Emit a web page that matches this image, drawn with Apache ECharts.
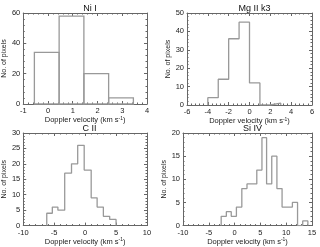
<!DOCTYPE html>
<html><head><meta charset="utf-8">
<script src="https://cdn.jsdelivr.net/npm/echarts@6/dist/echarts.min.js"></script>
<style>html,body{margin:0;padding:0;background:#fff}#c{width:320px;height:247px}</style>
</head><body><div id="c"></div>
<script>
// Panel titles
var titles = ['Ni I', 'Mg II k3', 'C II', 'Si IV'];
// Ni I histogram (bin edges and counts)
var niEdges = [-0.55, 0.45, 1.45, 2.45, 3.45];
var niCounts = [34, 58, 20, 4];
// Mg II k3
var mgEdges = [-4, -3, -2, -1, 0, 1, 2, 3];
var mgCounts = [4, 14, 36, 45, 12, 0, 1];
// C II
var ciiEdges = [-6.2, -5.3, -4.4, -3.3, -2.2, -1.2, -0.15, 0.98, 1.94, 2.95, 3.97, 5.0];
var ciiCounts = [4, 6, 5, 17, 20, 26, 18, 9, 6, 3, 2];
// Si IV
var siEdges = [-2.6, -1.6, -0.65, 0.35, 1.4, 2.4, 3.35, 4.3, 5.3, 6.2, 7.2, 8.2, 9.2, 10.2, 11.2, 12.2, 13.2, 14.2];
var siCounts = [2, 3, 2, 4, 8, 9, 9, 12, 19, 9, 15, 8, 4, 4, 5, 0, 1];
// Axis ranges
var xRanges = [[-1, 4, 1], [-6, 6, 2], [-10, 10, 5], [-10, 15, 5]];
var yRanges = [[0, 60, 20], [0, 50, 10], [0, 30, 5], [0, 20, 5]];

var font = 'Liberation Sans, Arial, sans-serif';
var axisCol = '#666';
var histCol = '#999';
var grids = [
  {left: 23, top: 13, width: 124, height: 91},
  {left: 187, top: 13, width: 125, height: 92},
  {left: 22, top: 133, width: 125, height: 93},
  {left: 183, top: 133, width: 129, height: 93}
];

function stepPoints(edges, counts) {
  var pts = [[edges[0], 0]];
  for (var i = 0; i < counts.length; i++) {
    pts.push([edges[i], counts[i]]);
    pts.push([edges[i + 1], counts[i]]);
  }
  pts.push([edges[edges.length - 1], 0]);
  return pts;
}

var xAxes = [], yAxes = [], series = [], titleOpts = [];
for (var g = 0; g < 4; g++) {
  var xr = xRanges[g], yr = yRanges[g];
  var base = {
    gridIndex: g, type: 'value', min: xr[0], max: xr[1], interval: xr[2],
    axisLine: {show: true, onZero: false, lineStyle: {color: axisCol, width: 1}},
    axisTick: {show: true, inside: true, length: 3, lineStyle: {color: axisCol}},
    minorTick: {show: true, splitNumber: 5, length: 1.5, lineStyle: {color: axisCol}},
    splitLine: {show: false}
  };
  xAxes.push(Object.assign({}, base, {
    position: 'bottom',
    axisLabel: {fontSize: 7.5, color: '#222', fontFamily: font, margin: 3},
    name: 'Doppler velocity (km s{sup|-1})', nameLocation: 'middle', nameGap: 10,
    nameTextStyle: {fontSize: 7.5, color: '#222', fontFamily: font,
      rich: {sup: {fontSize: 5, color: '#222', fontFamily: font, verticalAlign: 'top', padding: [0, 0, 4, 0]}}}
  }));
  xAxes.push(Object.assign({}, base, {position: 'top', axisLabel: {show: false}}));
  var ybase = {
    gridIndex: g, type: 'value', min: yr[0], max: yr[1], interval: yr[2],
    axisLine: {show: true, onZero: false, lineStyle: {color: axisCol, width: 1}},
    axisTick: {show: true, inside: true, length: 3, lineStyle: {color: axisCol}},
    minorTick: {show: true, splitNumber: 5, length: 1.5, lineStyle: {color: axisCol}},
    splitLine: {show: false}
  };
  yAxes.push(Object.assign({}, ybase, {
    position: 'left',
    axisLabel: {fontSize: 7.5, color: '#222', fontFamily: font, margin: 3},
    name: 'No. of pixels', nameLocation: 'middle', nameGap: 12,
    nameTextStyle: {fontSize: 7, color: '#222', fontFamily: font}
  }));
  yAxes.push(Object.assign({}, ybase, {position: 'right', axisLabel: {show: false}}));
  var gr = grids[g];
  titleOpts.push({
    text: titles[g], left: gr.left + gr.width / 2, top: g < 2 ? -1 : 119, textAlign: 'center',
    textStyle: {fontSize: 9, fontWeight: 'normal', color: '#111', fontFamily: font}
  });
}

// Ni I : outlined boxes
series.push({
  type: 'custom', xAxisIndex: 0, yAxisIndex: 0,
  data: niCounts.map(function (c, i) { return [niEdges[i], niEdges[i + 1], c]; }),
  renderItem: function (params, api) {
    var p0 = api.coord([api.value(0), 0]);
    var p1 = api.coord([api.value(1), api.value(2)]);
    return {type: 'rect', shape: {x: p0[0], y: p1[1], width: p1[0] - p0[0], height: p0[1] - p1[1]},
      style: {fill: 'none', stroke: histCol, lineWidth: 1.3}};
  },
  silent: true
});
var stepSets = [[mgEdges, mgCounts], [ciiEdges, ciiCounts], [siEdges, siCounts]];
for (var s = 0; s < 3; s++) {
  series.push({
    type: 'line', xAxisIndex: (s + 1) * 2, yAxisIndex: (s + 1) * 2,
    data: stepPoints(stepSets[s][0], stepSets[s][1]),
    showSymbol: false, symbol: 'none', animation: false, silent: true,
    lineStyle: {color: histCol, width: 1.3}
  });
}

var chart = echarts.init(document.getElementById('c'), null, {renderer: 'canvas'});
chart.setOption({
  animation: false,
  backgroundColor: '#fff',
  title: titleOpts,
  grid: grids,
  xAxis: xAxes,
  yAxis: yAxes,
  series: series
});
</script></body></html>
